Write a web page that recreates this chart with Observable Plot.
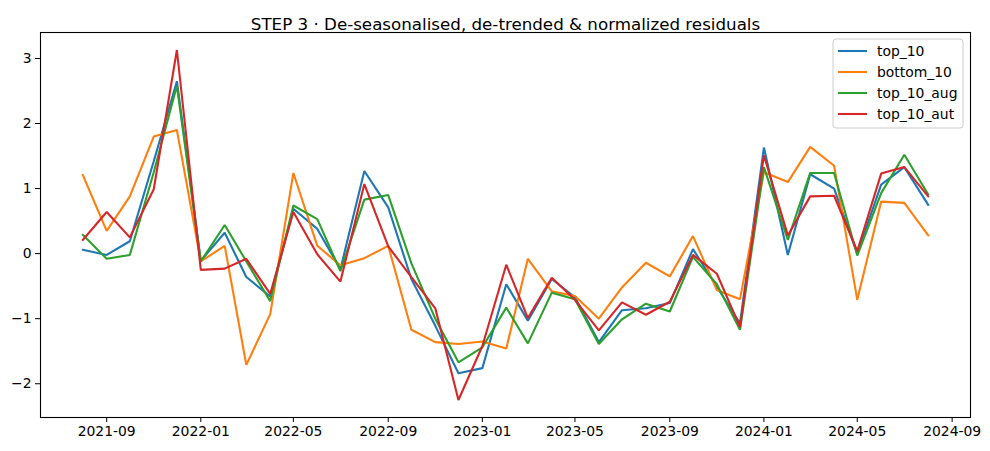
<!DOCTYPE html>
<html><head><meta charset="utf-8">
<script src="https://cdn.jsdelivr.net/npm/d3@7"></script>
<script src="https://cdn.jsdelivr.net/npm/@observablehq/plot@0.6"></script>
<style>body{margin:0;background:#fff;} #chart svg{display:block;}</style>
</head><body><div id="chart"></div>
<script>
const months = ["2021-08","2021-09","2021-10","2021-11","2021-12",
  "2022-01","2022-02","2022-03","2022-04","2022-05","2022-06","2022-07","2022-08","2022-09","2022-10","2022-11","2022-12",
  "2023-01","2023-02","2023-03","2023-04","2023-05","2023-06","2023-07","2023-08","2023-09","2023-10","2023-11","2023-12",
  "2024-01","2024-02","2024-03","2024-04","2024-05","2024-06","2024-07","2024-08"];
const top_10     = [0.06,-0.02,0.19,1.42,2.65,-0.11,0.32,-0.36,-0.66,0.69,0.38,-0.24,1.27,0.71,-0.39,-1.11,-1.84,-1.76,-0.47,-1.03,-0.39,-0.67,-1.36,-0.87,-0.84,-0.76,0.07,-0.51,-1.07,1.63,-0.02,1.22,1.00,0.00,1.06,1.33,0.75];
const bottom_10  = [1.21,0.35,0.88,1.80,1.90,-0.12,0.12,-1.71,-0.93,1.24,0.12,-0.18,-0.07,0.12,-1.17,-1.36,-1.39,-1.35,-1.46,-0.08,-0.58,-0.65,-1.00,-0.52,-0.14,-0.35,0.27,-0.56,-0.70,1.25,1.10,1.64,1.35,-0.71,0.80,0.78,0.28];
const top_10_aug = [0.29,-0.08,-0.02,1.25,2.58,-0.12,0.44,-0.12,-0.73,0.74,0.53,-0.27,0.83,0.90,-0.15,-1.00,-1.67,-1.44,-0.83,-1.38,-0.60,-0.70,-1.39,-1.01,-0.77,-0.89,-0.05,-0.47,-1.17,1.33,0.21,1.24,1.24,-0.03,0.93,1.52,0.91];
const top_10_aut = [0.21,0.64,0.25,0.99,3.13,-0.25,-0.23,-0.08,-0.62,0.64,-0.01,-0.43,1.07,0.11,-0.36,-0.84,-2.25,-1.42,-0.17,-0.99,-0.37,-0.71,-1.18,-0.75,-0.94,-0.74,-0.02,-0.31,-1.13,1.51,0.28,0.88,0.89,0.04,1.23,1.33,0.88];
const seriesNames  = ["top_10","bottom_10","top_10_aug","top_10_aut"];
const seriesColors = ["#1f77b4","#ff7f0e","#2ca02c","#d62728"];
const xTickLabels  = ["2021-09","2022-01","2022-05","2022-09","2023-01","2023-05","2023-09","2024-01","2024-05","2024-09"];
const yTicks       = [-2,-1,0,1,2,3];
const title = "STEP 3 · De-seasonalised, de-trended & normalized residuals";

const parse = d3.utcParse("%Y-%m");
const dates = months.map(parse);
const seriesValues = [top_10, bottom_10, top_10_aug, top_10_aut];
const rows = seriesNames.flatMap((name, s) => dates.map((d, i) => ({date: d, value: seriesValues[s][i], series: name})));

function pad(lo, hi) { const m = (hi - lo) * 0.05; return [lo - m, hi + m]; }
const [x0, x1] = pad(+dates[0], +dates[dates.length - 1]);
const allV = seriesValues.flat();
const yDomain = pad(d3.min(allV), d3.max(allV));
const FONT = "DejaVu Sans";

const chart = Plot.plot({
  width: 990, height: 451,
  marginLeft: 40, marginRight: 20, marginTop: 32, marginBottom: 34,
  style: {fontFamily: FONT, fontSize: "13.9px", background: "white", color: "black"},
  x: {type: "utc", domain: [new Date(x0), new Date(x1)], ticks: xTickLabels.map(parse),
      tickFormat: d3.utcFormat("%Y-%m"), tickSize: 5, tickPadding: 4, label: null},
  y: {domain: yDomain, ticks: yTicks, tickSize: 5, tickPadding: 4, label: null,
      tickFormat: d => d < 0 ? "\u2212" + Math.abs(d) : String(d)},
  marks: [
    ...seriesNames.map((name, s) => Plot.line(rows.filter(r => r.series === name),
        {x: "date", y: "value", stroke: seriesColors[s], strokeWidth: 2.1, strokeLinejoin: "miter"})),
    Plot.frame({stroke: "black", strokeWidth: 1.1}),
    Plot.text([title], {frameAnchor: "top", dy: -14, fontSize: 16.7, fill: "black", fontFamily: FONT})
  ]
});
document.getElementById("chart").appendChild(chart);

// legend (upper right, matplotlib style)
const svg = d3.select(chart);
const lg = svg.append("g").attr("font-family", FONT).attr("font-size", "13.9px").attr("text-anchor", "start");
lg.append("rect").attr("x", 833).attr("y", 39).attr("width", 130).attr("height", 89)
  .attr("rx", 3).attr("fill", "white").attr("fill-opacity", 0.8).attr("stroke", "#cccccc").attr("stroke-width", 1);
seriesNames.forEach((name, s) => {
  const cy = 51 + s * 21;
  lg.append("line").attr("x1", 838).attr("x2", 867).attr("y1", cy).attr("y2", cy)
    .attr("stroke", seriesColors[s]).attr("stroke-width", 2.1);
  lg.append("text").attr("x", 877).attr("y", cy).attr("dy", "0.35em").attr("fill", "black")
    .style("text-anchor", "start").text(name);
});
</script>
</body></html>
